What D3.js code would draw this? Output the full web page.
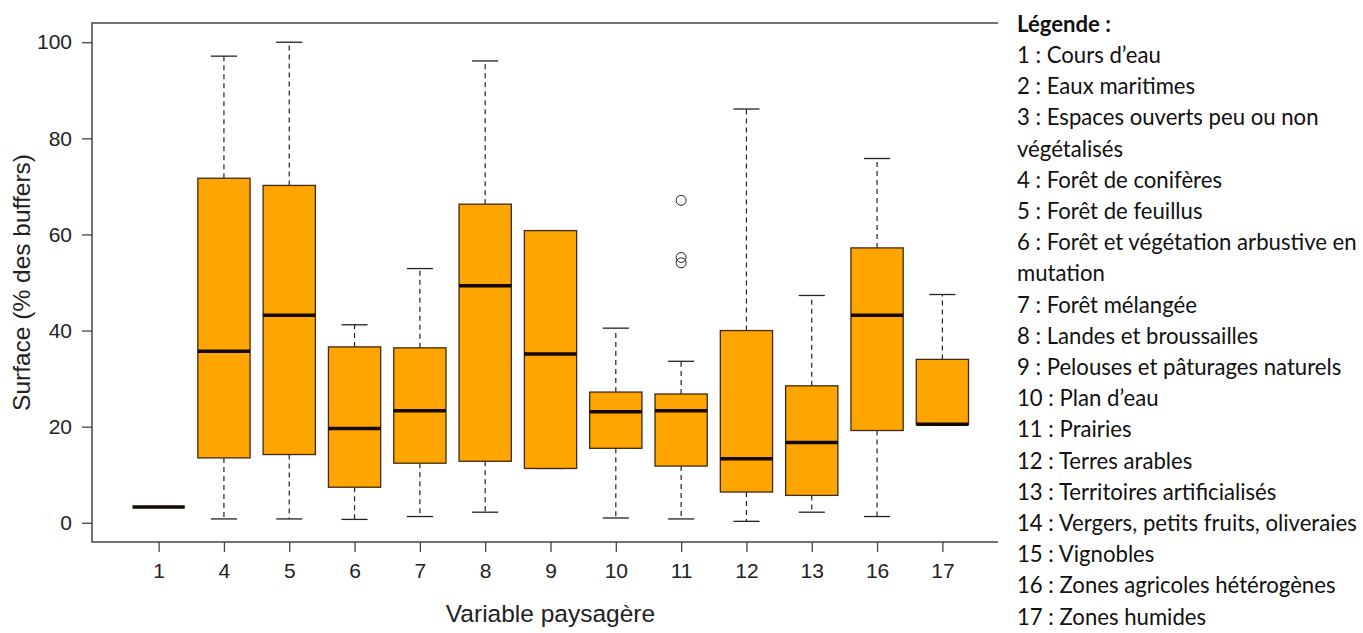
<!DOCTYPE html>
<meta charset="utf-8">
<style type="text/css">
	body { margin: 0; background: #fff; }
	.axis text { font-family: "Liberation Sans", Arial, sans-serif; font-size: 21px; fill: #222; }
	.axis line { stroke: #444; stroke-width: 1.3; }
	.axis path { display: none; }
	.title { font-family: "Liberation Sans", Arial, sans-serif; font-size: 24.5px; fill: #222; }
	.legend text { font-family: Lato, "Open Sans", sans-serif; fill: #111; }
</style>
<body>
<div id="chart"></div>
<script src="https://cdn.jsdelivr.net/npm/d3@7"></script>
<script>
	// box statistics
	const categories = ['1', '4', '5', '6', '7', '8', '9', '10', '11', '12', '13', '16', '17'];
	const whiskerLow = [3.3, 0.8, 0.8, 0.7, 1.3, 2.2, 11.3, 1.0, 0.8, 0.3, 2.2, 1.3, 20.5];
	const q1 = [3.3, 13.5, 14.2, 7.4, 12.4, 12.8, 11.3, 15.5, 11.8, 6.4, 5.7, 19.2, 20.5];
	const median = [3.3, 35.7, 43.2, 19.6, 23.3, 49.3, 35.1, 23.1, 23.3, 13.3, 16.7, 43.2, 20.5];
	const q3 = [3.3, 71.7, 70.2, 36.6, 36.4, 66.3, 60.8, 27.2, 26.8, 40.0, 28.5, 57.2, 34.0];
	const whiskerHigh = [3.3, 97.1, 100, 41.2, 52.9, 96.1, 60.8, 40.5, 33.6, 86.1, 47.3, 75.8, 47.5];
	const outliers = [
		{ cat: '11', value: 67.1 },
		{ cat: '11', value: 55.2 },
		{ cat: '11', value: 54.1 }
	];
	const yTicks = [0, 20, 40, 60, 80, 100];

	const legendTitle = 'Légende :';
	const legendLines = [
		'1 : Cours d\u2019eau',
		'2 : Eaux maritimes',
		'3 : Espaces ouverts peu ou non',
		'végétalisés',
		'4 : Forêt de conifères',
		'5 : Forêt de feuillus',
		'6 : Forêt et végétation arbustive en',
		'mutation',
		'7 : Forêt mélangée',
		'8 : Landes et broussailles',
		'9 : Pelouses et pâturages naturels',
		'10 : Plan d\u2019eau',
		'11 : Prairies',
		'12 : Terres arables',
		'13 : Territoires artificialisés',
		'14 : Vergers, petits fruits, oliveraies',
		'15 : Vignobles',
		'16 : Zones agricoles hétérogènes',
		'17 : Zones humides'
	];

	const data = categories.map((c, i) => ({
		cat: c, pos: i + 1,
		lo: whiskerLow[i], q1: q1[i], med: median[i], q3: q3[i], hi: whiskerHigh[i]
	}));

	const width = 1363;
	const height = 633;
	const plot = { left: 92, right: 1009, top: 23, bottom: 542 };

	const svg = d3.select('#chart').append('svg')
		.attr('width', width)
		.attr('height', height);

	// R style ranges: 0.5..n+0.5 and 0..100, each widened by 4%
	const x = d3.scaleLinear()
		.domain([-0.02, categories.length + 1.02])
		.range([plot.left, plot.right]);
	const y = d3.scaleLinear()
		.domain([-4, 104])
		.range([plot.bottom, plot.top]);

	const step = x(2) - x(1);
	const boxW = step * 0.8;
	const capW = step * 0.4;

	const boxes = svg.append('g').attr('class', 'boxes')
		.selectAll('g')
		.data(data)
		.enter().append('g');

	// whiskers
	boxes.append('line')
		.attr('x1', d => x(d.pos)).attr('x2', d => x(d.pos))
		.attr('y1', d => y(d.q3)).attr('y2', d => y(d.hi))
		.attr('stroke', '#222').attr('stroke-width', 1.2)
		.attr('stroke-dasharray', '5,4');
	boxes.append('line')
		.attr('x1', d => x(d.pos)).attr('x2', d => x(d.pos))
		.attr('y1', d => y(d.q1)).attr('y2', d => y(d.lo))
		.attr('stroke', '#222').attr('stroke-width', 1.2)
		.attr('stroke-dasharray', '5,4');
	boxes.append('line')
		.attr('x1', d => x(d.pos) - capW / 2).attr('x2', d => x(d.pos) + capW / 2)
		.attr('y1', d => y(d.hi)).attr('y2', d => y(d.hi))
		.attr('stroke', '#222').attr('stroke-width', 1.3);
	boxes.append('line')
		.attr('x1', d => x(d.pos) - capW / 2).attr('x2', d => x(d.pos) + capW / 2)
		.attr('y1', d => y(d.lo)).attr('y2', d => y(d.lo))
		.attr('stroke', '#222').attr('stroke-width', 1.3);

	// boxes
	boxes.append('rect')
		.attr('x', d => x(d.pos) - boxW / 2)
		.attr('width', boxW)
		.attr('y', d => y(d.q3))
		.attr('height', d => y(d.q1) - y(d.q3))
		.attr('fill', '#ffa500')
		.attr('stroke', '#3d2a18')
		.attr('stroke-width', 1.3);

	// medians
	boxes.append('line')
		.attr('x1', d => x(d.pos) - boxW / 2).attr('x2', d => x(d.pos) + boxW / 2)
		.attr('y1', d => y(d.med)).attr('y2', d => y(d.med))
		.attr('stroke', '#140800').attr('stroke-width', 3.5);

	// outliers
	svg.append('g').selectAll('circle')
		.data(outliers)
		.enter().append('circle')
		.attr('cx', d => x(categories.indexOf(d.cat) + 1))
		.attr('cy', d => y(d.value))
		.attr('r', 5)
		.attr('fill', 'none')
		.attr('stroke', '#222')
		.attr('stroke-width', 1);

	// frame
	svg.append('rect')
		.attr('x', plot.left).attr('y', plot.top)
		.attr('width', plot.right - plot.left)
		.attr('height', plot.bottom - plot.top)
		.attr('fill', 'none')
		.attr('stroke', '#444')
		.attr('stroke-width', 1.5);

	// axes
	svg.append('g')
		.attr('class', 'y axis')
		.attr('transform', `translate(${plot.left}, 0)`)
		.call(d3.axisLeft(y).tickValues(yTicks).tickSize(10).tickPadding(10));

	svg.append('g')
		.attr('class', 'x axis')
		.attr('transform', `translate(0, ${plot.bottom})`)
		.call(d3.axisBottom(x)
			.tickValues(d3.range(1, categories.length + 1))
			.tickFormat(i => categories[i - 1])
			.tickSize(10).tickPadding(11));

	svg.append('text')
		.attr('class', 'title')
		.attr('x', (plot.left + plot.right) / 2)
		.attr('y', 622)
		.attr('text-anchor', 'middle')
		.text('Variable paysagère');

	svg.append('text')
		.attr('class', 'title')
		.attr('transform', `translate(30, ${(plot.top + plot.bottom) / 2}) rotate(-90)`)
		.attr('text-anchor', 'middle')
		.text('Surface (% des buffers)');

	// legend box pasted over the right side
	const legend = svg.append('g').attr('class', 'legend');
	legend.append('rect')
		.attr('x', 998).attr('y', 0)
		.attr('width', width - 998).attr('height', height)
		.attr('fill', '#fff');

	const legendX = 1017;
	const lineH = 31.2;
	let fontSize = 24;
	const probe = legend.append('text')
		.style('font-size', fontSize + 'px')
		.text(legendLines[15]);
	fontSize = Math.min(26, fontSize * 340 / probe.node().getComputedTextLength());
	probe.remove();

	legend.append('text')
		.attr('x', legendX)
		.attr('y', 24)
		.attr('dy', '0.35em')
		.style('font-size', fontSize + 'px')
		.style('font-weight', 'bold')
		.text(legendTitle);

	legend.selectAll('.item')
		.data(legendLines)
		.enter().append('text')
		.attr('class', 'item')
		.attr('x', legendX)
		.attr('y', (d, i) => 24 + (i + 1) * lineH)
		.attr('dy', '0.35em')
		.style('font-size', fontSize + 'px')
		.text(d => d);
</script>
</body>
